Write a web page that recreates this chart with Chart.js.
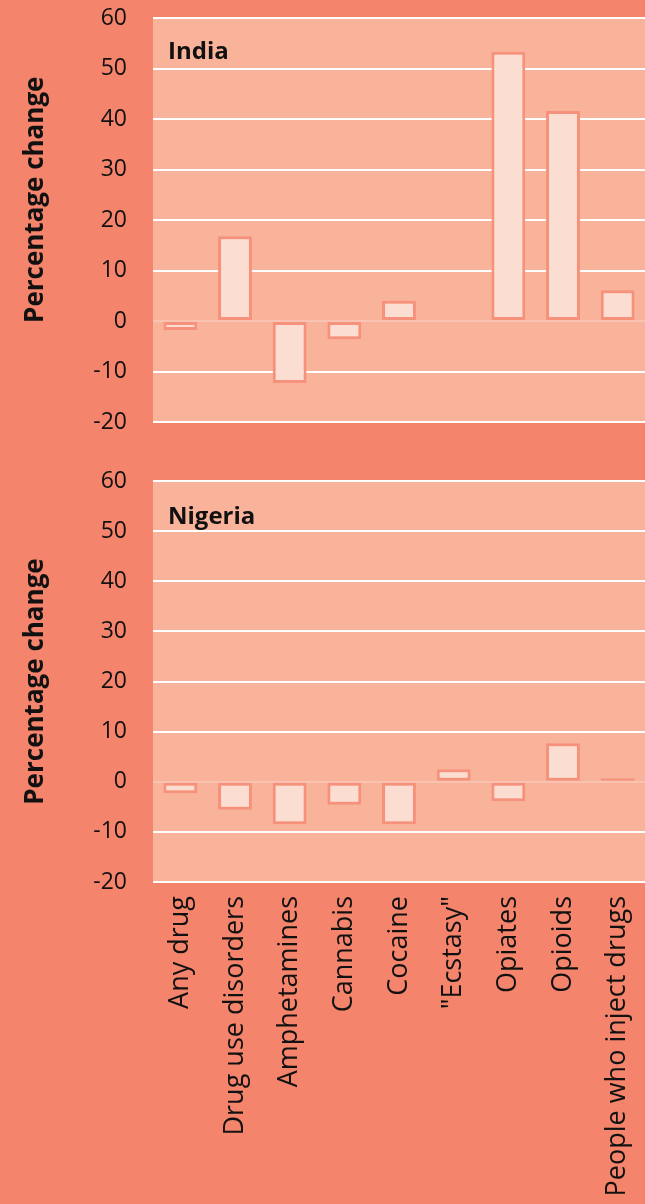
<!DOCTYPE html>
<html>
<head>
<meta charset="utf-8">
<script src="https://cdn.jsdelivr.net/npm/chart.js@4/dist/chart.umd.min.js"></script>
<style>
  html, body { margin: 0; padding: 0; background: #F4846B; }
  #wrap { position: relative; width: 645px; height: 1204px; overflow: hidden; }
  canvas { position: absolute; left: 0; }
</style>
</head>
<body>
<div id="wrap">
  <canvas id="indiaChart" width="645" height="440" style="top:0"></canvas>
  <canvas id="nigeriaChart" width="645" height="764" style="top:440px"></canvas>
</div>
<script>
// categories shared by both panels
const categories = ['Any drug', 'Drug use disorders', 'Amphetamines', 'Cannabis', 'Cocaine',
    '"Ecstasy"', 'Opiates', 'Opioids', 'People who inject drugs'];

// percentage change
const indiaValues = [-1.8, 16.8, -12.3, -3.6, 4.0, null, 53.3, 41.6, 6.1];
const nigeriaValues = [-2.3, -5.6, -8.5, -4.6, -8.5, 2.5, -3.9, 7.7, 0.7];

const yTicks = { min: -20, max: 60, step: 10 };

const colors = {
    outer: '#F4846B',
    plot: '#F9B39B',
    bar: '#FCDDD2',
    barBorder: '#F6927C',
    grid: '#FFFFFF',
    zero: '#FAC3B1',
    text: '#111111'
};

// fill plot area and write the panel name
const panelPlugin = {
    id: 'panel',
    beforeDraw: (chart, args, opts) => {
        const ctx = chart.ctx;
        const a = chart.chartArea;
        ctx.save();
        ctx.fillStyle = colors.plot;
        ctx.fillRect(a.left, a.top, a.right - a.left, a.bottom - a.top);
        ctx.restore();
    },
    afterDatasetsDraw: (chart, args, opts) => {
        const ctx = chart.ctx;
        const a = chart.chartArea;
        ctx.save();
        ctx.font = 'bold 24px "Open Sans"';
        ctx.fillStyle = colors.text;
        ctx.textBaseline = 'middle';
        ctx.fillText(opts.label, a.left + opts.dx, a.top + opts.dy);
        ctx.restore();
    }
};

let makeChart = (id, values, label, showLabels, titleText, plotTop, axisHeight) => {
    let ctx = document.getElementById(id).getContext('2d');
    return new Chart(ctx, {
        type: 'bar',
        data: {
            labels: categories,
            datasets: [{
                data: values,
                backgroundColor: colors.bar,
                borderColor: colors.barBorder,
                borderWidth: 3,
                borderSkipped: false,
                barPercentage: 0.62,
                categoryPercentage: 1
            }]
        },
        options: {
            responsive: false,
            animation: false,
            devicePixelRatio: 1,
            layout: { padding: { top: plotTop, left: 0, right: 0, bottom: 0 } },
            plugins: {
                legend: { display: false },
                tooltip: { enabled: false },
                panel: { label: label, dx: 15, dy: label === 'India' ? 34 : 36 }
            },
            scales: {
                x: {
                    grid: { display: false, drawTicks: false },
                    border: { display: false },
                    ticks: {
                        display: showLabels,
                        minRotation: 90,
                        maxRotation: 90,
                        autoSkip: false,
                        padding: 14,
                        color: colors.text,
                        font: { family: 'Open Sans', size: 27 }
                    },
                    afterFit: (scale) => {
                        scale.height = axisHeight;
                        scale.paddingLeft = 0;
                        scale.paddingRight = 0;
                    }
                },
                y: {
                    min: yTicks.min,
                    max: yTicks.max,
                    ticks: {
                        stepSize: yTicks.step,
                        padding: 26,
                        color: colors.text,
                        font: { family: 'Open Sans', size: 23 }
                    },
                    grid: {
                        drawTicks: false,
                        lineWidth: 2,
                        color: (c) => c.tick && c.tick.value === 0 ? colors.zero : colors.grid
                    },
                    border: { display: false },
                    title: {
                        display: true,
                        text: titleText,
                        color: colors.text,
                        padding: { top: 20, bottom: 0 },
                        font: { family: 'Open Sans', size: 26, weight: 'bold' }
                    },
                    afterFit: (scale) => {
                        scale.width = 153;
                        scale.paddingTop = 0;
                        scale.paddingBottom = 0;
                    }
                }
            }
        },
        plugins: [panelPlugin]
    });
}

makeChart('indiaChart', indiaValues, 'India', false, '      Percentage change', 18, 18);
makeChart('nigeriaChart', nigeriaValues, 'Nigeria', true, 'Percentage change', 41, 322);
</script>
</body>
</html>
